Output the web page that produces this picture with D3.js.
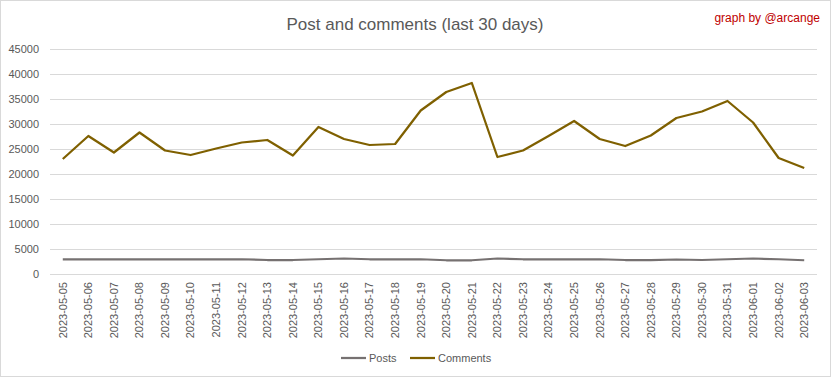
<!DOCTYPE html>
<html>
<head>
<meta charset="utf-8">
<script src="https://cdn.jsdelivr.net/npm/d3@7"></script>
<style>
  body { margin: 0; background: #fff; }
  svg { display: block; font-family: "Liberation Sans Narrow", "Liberation Sans", Arial, sans-serif; }
</style>
</head>
<body>
<div id="container"></div>
<script>
// Data
const dates = [
  "2023-05-05", "2023-05-06", "2023-05-07", "2023-05-08", "2023-05-09", "2023-05-10",
  "2023-05-11", "2023-05-12", "2023-05-13", "2023-05-14", "2023-05-15", "2023-05-16",
  "2023-05-17", "2023-05-18", "2023-05-19", "2023-05-20", "2023-05-21", "2023-05-22",
  "2023-05-23", "2023-05-24", "2023-05-25", "2023-05-26", "2023-05-27", "2023-05-28",
  "2023-05-29", "2023-05-30", "2023-05-31", "2023-06-01", "2023-06-02", "2023-06-03"
];
const posts = [
  2950, 2950, 2950, 2950, 2950, 2950, 2950, 2950, 2800, 2800, 2950, 3100,
  2950, 2950, 2950, 2750, 2750, 3100, 2950, 2950, 2950, 2950, 2800, 2800,
  2900, 2800, 2950, 3100, 2950, 2750
];
const comments = [
  23000, 27600, 24300, 28300, 24700, 23800, 25100, 26300, 26800, 23700, 29400, 27000,
  25800, 26000, 32700, 36400, 38200, 23400, 24700, 27600, 30600, 27000, 25600, 27700,
  31200, 32500, 34600, 30300, 23200, 21200
];
const yTicks = [0, 5000, 10000, 15000, 20000, 25000, 30000, 35000, 40000, 45000];

const width = 832;
const height = 378;
const margin = { top: 49, right: 15, bottom: 104, left: 50 };

const svg = d3.select("#container")
  .append("svg")
  .attr("width", width)
  .attr("height", height);

// outer frame
svg.append("rect")
  .attr("x", 0.5).attr("y", 0.5)
  .attr("width", width - 2).attr("height", height - 2)
  .attr("fill", "#fff")
  .attr("stroke", "#d9d9d9");

const x = d3.scaleBand()
  .domain(dates)
  .range([margin.left, width - margin.right]);

const y = d3.scaleLinear()
  .domain([0, 45000])
  .range([height - margin.bottom, margin.top]);

// gridlines
svg.append("g")
  .selectAll("line")
  .data(yTicks)
  .join("line")
  .attr("x1", margin.left)
  .attr("x2", width - margin.right)
  .attr("y1", d => Math.round(y(d)) + 0.5)
  .attr("y2", d => Math.round(y(d)) + 0.5)
  .attr("stroke", "#d9d9d9");

// y axis labels
const yAxis = svg.append("g")
  .attr("transform", `translate(${margin.left - 11},0)`)
  .call(d3.axisLeft(y).tickValues(yTicks).tickSize(0).tickPadding(0).tickFormat(d3.format("d")));
yAxis.select(".domain").remove();
yAxis.selectAll("text")
  .attr("fill", "#595959")
  .style("font-size", "11px")
  .style("font-family", "inherit");

// x axis labels, rotated
const xAxis = svg.append("g")
  .attr("transform", `translate(0,${height - margin.bottom})`)
  .call(d3.axisBottom(x).tickSize(0).tickPadding(0));
xAxis.select(".domain").remove();
xAxis.selectAll("text")
  .attr("fill", "#595959")
  .style("font-size", "11px")
  .style("font-family", "inherit")
  .attr("text-anchor", "end")
  .attr("transform", "rotate(-90)")
  .attr("x", -8)
  .attr("y", 0)
  .attr("dy", "0.35em");

const line = d3.line()
  .x((d, i) => x(dates[i]) + x.bandwidth() / 2)
  .y(d => y(d));

svg.append("path")
  .datum(posts)
  .attr("d", line)
  .attr("fill", "none")
  .attr("stroke", "#767171")
  .attr("stroke-width", 2.25)
  .attr("stroke-linejoin", "round");

svg.append("path")
  .datum(comments)
  .attr("d", line)
  .attr("fill", "none")
  .attr("stroke", "#7f6000")
  .attr("stroke-width", 2.25)
  .attr("stroke-linejoin", "round");

// title
svg.append("text")
  .attr("x", 415)
  .attr("y", 30)
  .attr("text-anchor", "middle")
  .attr("fill", "#595959")
  .style("font-size", "17px")
  .text("Post and comments (last 30 days)");

svg.append("text")
  .attr("x", 820)
  .attr("y", 22)
  .attr("text-anchor", "end")
  .attr("fill", "#c00000")
  .style("font-size", "12px")
  .text("graph by @arcange");

// legend
const legend = [
  { name: "Posts", color: "#767171", x: 341 },
  { name: "Comments", color: "#7f6000", x: 410 }
];
const lg = svg.append("g")
  .selectAll("g")
  .data(legend)
  .join("g")
  .attr("transform", d => `translate(${d.x},358)`);
lg.append("line")
  .attr("x1", 0).attr("x2", 25)
  .attr("stroke", d => d.color)
  .attr("stroke-width", 2.25);
lg.append("text")
  .attr("x", 28)
  .attr("dy", "0.35em")
  .attr("fill", "#595959")
  .style("font-size", "11px")
  .text(d => d.name);
</script>
</body>
</html>
